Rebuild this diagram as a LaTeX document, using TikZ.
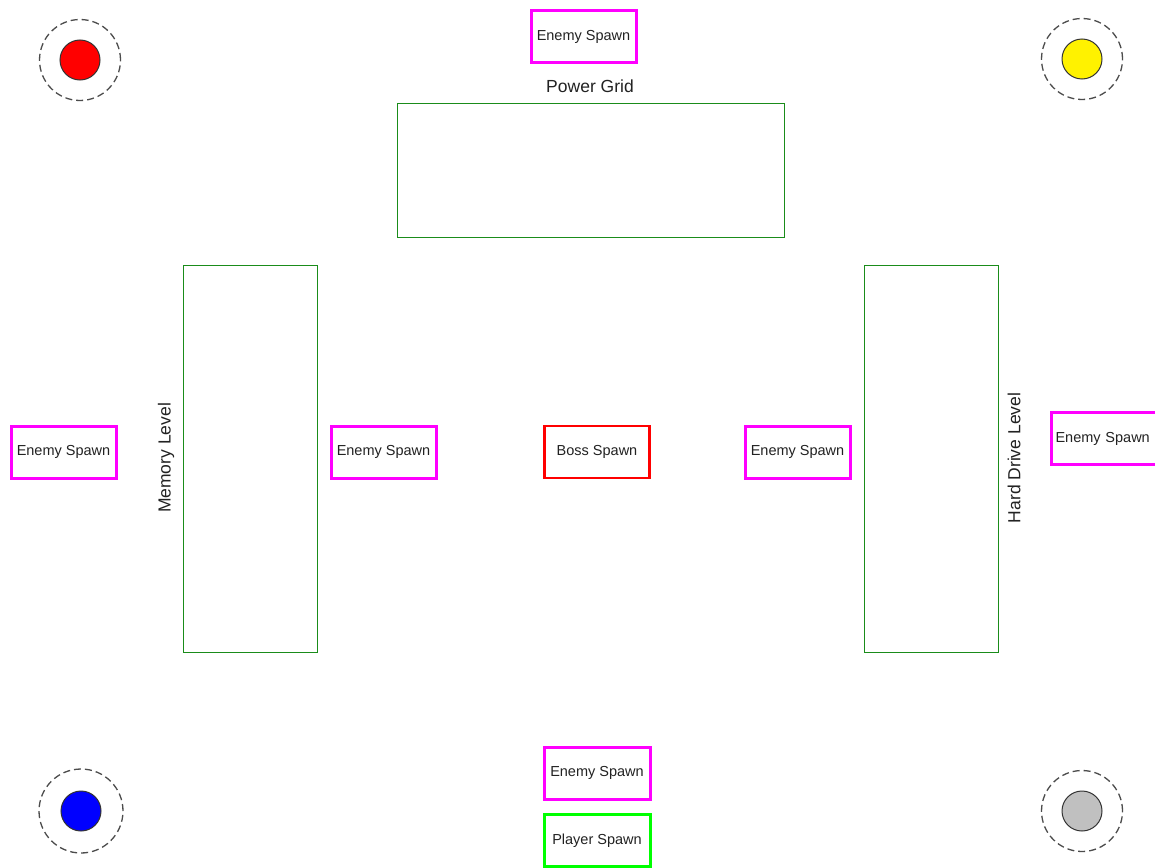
\documentclass[tikz,border=0pt]{standalone}
\usepackage{fontspec}
\setmainfont{Liberation Sans}
\definecolor{mag}{HTML}{FF00FF}
\definecolor{dkgreen}{HTML}{1A8C1A}
\definecolor{brightgreen}{HTML}{00FF00}
\definecolor{txt}{HTML}{222222}
\definecolor{grayfill}{HTML}{C0C0C0}
\begin{document}
\begin{tikzpicture}[x=1pt,y=-1pt,
  spawn/.style={draw=mag,line width=3pt,minimum width=105pt,minimum height=52pt,inner sep=0pt,text=txt,font=\fontsize{14.5}{17}\selectfont},
  boss/.style={spawn,draw=red,line width=2.5pt},
  player/.style={spawn,draw=brightgreen},
  level/.style={draw=dkgreen,line width=1pt,inner sep=0pt},
  lab/.style={text=txt,font=\fontsize{17.5}{21}\selectfont,inner sep=0pt},
  ring/.style={draw=black!70,dashed,dash pattern=on 7pt off 4pt,line width=1.3pt,circle,inner sep=0pt},
  token/.style={draw=black!80,line width=1pt,circle,minimum size=40pt,inner sep=0pt}]
\useasboundingbox (0,0) rectangle (1155,867);
\clip (0,0) rectangle (1155,867);
\fill[white] (0,0) rectangle (1155,867);
% corner tokens
\node[ring,minimum size=81pt] (r1) at (80,60) {};
\node[token,fill=red] (t1) at (80,60) {};
\node[ring,minimum size=81pt] (r2) at (1082,59) {};
\node[token,fill=yellow] (t2) at (1082,59) {};
\node[ring,minimum size=84pt] (r3) at (81,811) {};
\node[token,fill=blue] (t3) at (81,811) {};
\node[ring,minimum size=81pt] (r4) at (1082,811) {};
\node[token,fill=grayfill] (t4) at (1082,811) {};
% levels
\node[level,minimum width=387pt,minimum height=134pt] (pg) at (590.5,170) {};
\node[lab] (pgl) at (590,86) {Power Grid};
\node[level,minimum width=134pt,minimum height=387pt] (ml) at (250,458.5) {};
\node[lab,rotate=90] (mll) at (166,458) {Memory Level};
\node[level,minimum width=134pt,minimum height=387pt] (hd) at (931,458.5) {};
\node[lab,rotate=90] (hdl) at (1014,458) {Hard Drive Level};
% spawns
\node[spawn] (es1) at (583.5,36.5) {Enemy Spawn};
\node[spawn] (es2) at (63.5,452) {Enemy Spawn};
\node[spawn] (es3) at (383.5,452) {Enemy Spawn};
\node[boss] (bs) at (597,452) {Boss Spawn};
\node[spawn] (es4) at (797.5,452) {Enemy Spawn};
\node[spawn,minimum width=107pt,text width=107pt,align=left] (es5) at (1105,438.5) {\hspace{4pt}Enemy Spawn};
\node[spawn,minimum width=106pt] (es6) at (597,773) {Enemy Spawn};
\node[player,minimum width=106pt] (ps) at (597,840.5) {Player Spawn};
\end{tikzpicture}
\end{document}
